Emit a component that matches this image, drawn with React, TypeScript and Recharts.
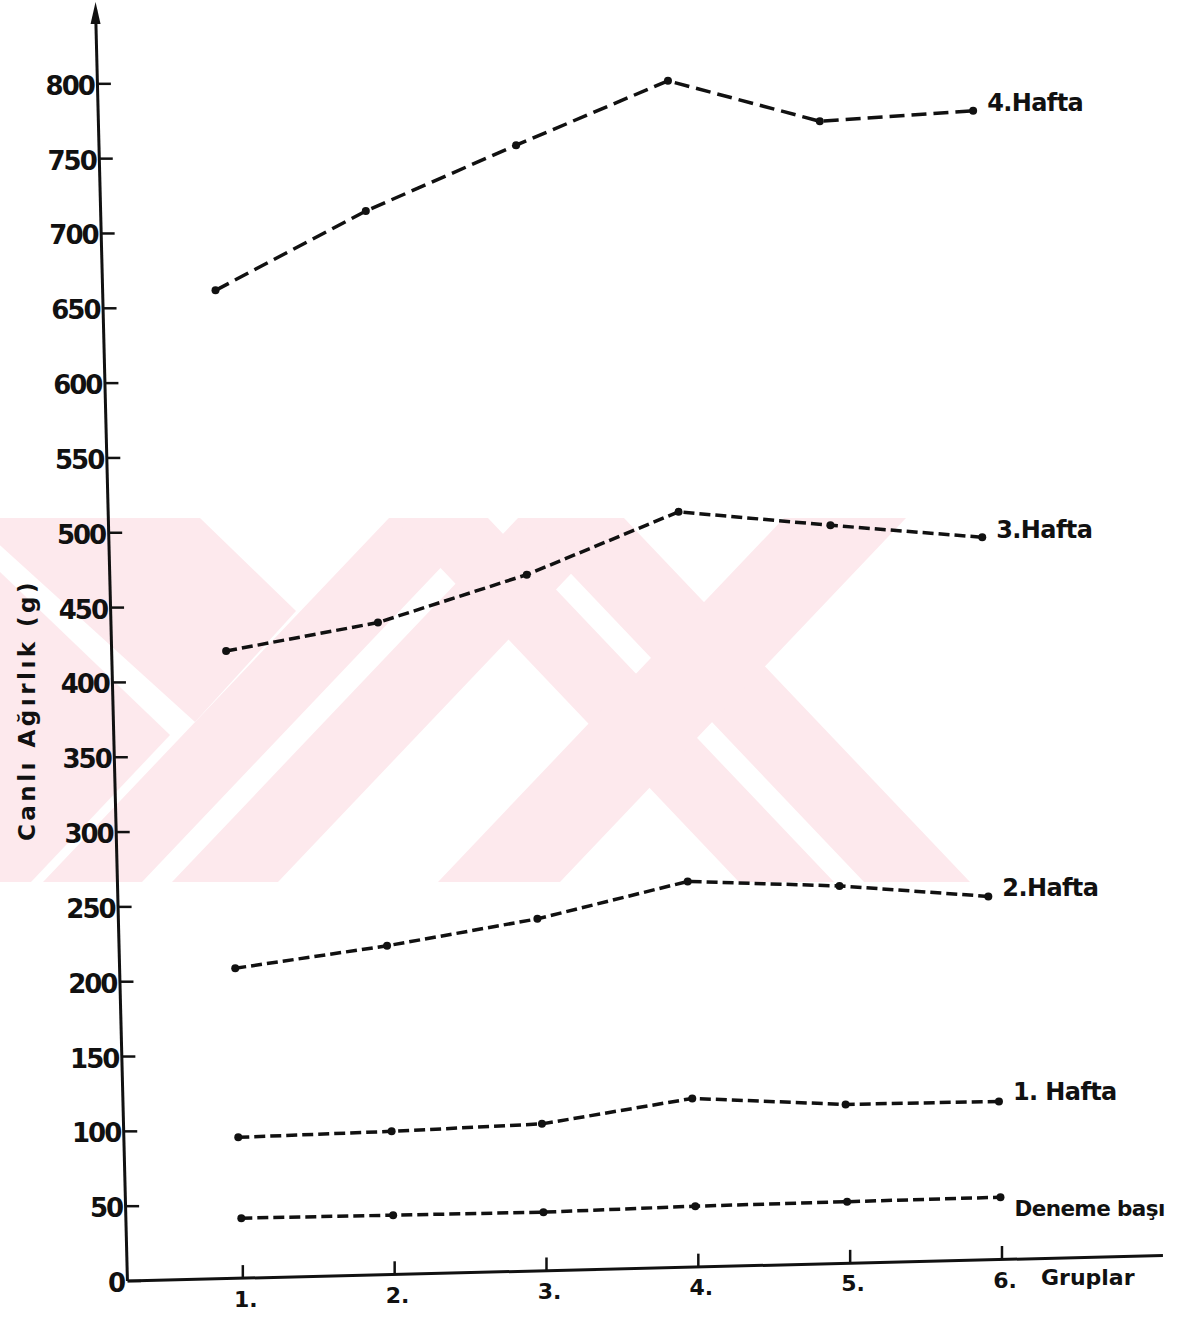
import React from 'react';
import { LineChart, Line, XAxis, YAxis, ReferenceLine, ReferenceDot, LabelList } from 'recharts';

// Groups on the x axis
const gruplar = [1, 2, 3, 4, 5, 6];
const yTicks = [0, 50, 100, 150, 200, 250, 300, 350, 400, 450, 500, 550, 600, 650, 700, 750, 800];

// Weekly live weights (g) per group (hand drawn, points drift off the ticks)
const hafta4X = [0.82, 1.81, 2.8, 3.8, 4.8, 5.81];
const hafta4Y = [662, 715, 759, 802, 775, 782];
const hafta3X = [0.89, 1.89, 2.87, 3.87, 4.87, 5.87];
const hafta3Y = [421, 440, 472, 514, 505, 497];
const hafta2X = [0.95, 1.95, 2.94, 3.93, 4.93, 5.91];
const hafta2Y = [209, 224, 242, 267, 264, 257];
const hafta1X = [0.97, 1.98, 2.97, 3.96, 4.97, 5.98];
const hafta1Y = [96, 100, 105, 122, 118, 120];
const denemeX = [0.99, 1.99, 2.98, 3.98, 4.98, 5.99];
const denemeY = [42, 44, 46, 50, 53, 56];

const seriesNames = ['4.Hafta', '3.Hafta', '2.Hafta', '1. Hafta', 'Deneme başı'];

const toPoints = (xs: number[], ys: number[]) => xs.map((x, i) => ({ x, y: ys[i] }));

const series = [
  { name: seriesNames[0], data: toPoints(hafta4X, hafta4Y), dash: '15 7', dy: -8, fs: 24 },
  { name: seriesNames[1], data: toPoints(hafta3X, hafta3Y), dash: '11 5', dy: -7, fs: 24 },
  { name: seriesNames[2], data: toPoints(hafta2X, hafta2Y), dash: '11 5', dy: -8, fs: 24 },
  { name: seriesNames[3], data: toPoints(hafta1X, hafta1Y), dash: '11 5', dy: -9, fs: 24 },
  { name: seriesNames[4], data: toPoints(denemeX, denemeY), dash: '11 5', dy: 11, fs: 21.5 },
];

const W = 1178;
const H = 1318;
const FONT = '"DejaVu Sans", sans-serif';
const INK = '#111';
const PINK = '#fde9ed';

// the drawn axes lean a little: y axis runs from x=96 (top) to x=128 (origin),
// x axis falls from y=1281 (origin) to y=1255 (right end)
const yAxisPx = (py: number) => 96 + ((py - 9) * 32) / 1272;
const xAxisPx = (px: number) => 1281 - ((px - 128) * 26) / 1034;

function YTick(props: any) {
  const { y, payload } = props;
  const ax = yAxisPx(y);
  return (
    <g>
      <line x1={ax} y1={y} x2={ax + 13} y2={y} stroke={INK} strokeWidth={2.5} />
      <text
        x={ax - 4}
        y={y + 2}
        textAnchor="end"
        dominantBaseline="central"
        fontFamily={FONT}
        fontWeight="bold"
        fontSize={26}
        letterSpacing={-2}
        fill={INK}
      >
        {payload.value}
      </text>
    </g>
  );
}

function XTick(props: any) {
  const { x, payload } = props;
  const ay = xAxisPx(x);
  return (
    <g>
      <line x1={x} y1={ay} x2={x} y2={ay - 13} stroke={INK} strokeWidth={2.5} />
      <text
        x={x + 3}
        y={ay + 21}
        textAnchor="middle"
        dominantBaseline="central"
        fontFamily={FONT}
        fontWeight="bold"
        fontSize={22}
        fill={INK}
      >
        {`${payload.value}.`}
      </text>
    </g>
  );
}

// faint archive stamp behind the plot
function Watermark() {
  const shapes = [
    '389,518 488,518 142,882 43,882',
    '518,518 624,518 278,882 172,882',
    '393,518 488,518 834,882 739,882',
    '518,518 624,518 970,882 864,882',
    '784,518 906,518 560,882 438,882',
    '-30,518 200,518 296,611 195,722',
    '0,572 170,735 31,882 0,882',
  ];
  return (
    <svg width={W} height={H} style={{ position: 'absolute', left: 0, top: 0 }}>
      <defs>
        <clipPath id="wmClip">
          <rect x={0} y={518} width={1000} height={364} />
        </clipPath>
      </defs>
      <g clipPath="url(#wmClip)" fill={PINK}>
        {shapes.map((p, i) => (
          <polygon key={i} points={p} />
        ))}
      </g>
    </svg>
  );
}

export default function App() {
  return (
    <div style={{ position: 'absolute', left: 0, top: 0, width: W, height: H, background: '#fff', overflow: 'hidden' }}>
      <Watermark />
      <div style={{ position: 'absolute', left: 0, top: 0 }}>
        <LineChart width={W} height={H} margin={{ top: 9, right: 9, bottom: 7, left: 31 }}>
          <XAxis
            dataKey="x"
            type="number"
            domain={[0, 7.1]}
            ticks={gruplar}
            axisLine={false}
            tickLine={false}
            tick={<XTick />}
            height={30}
            allowDataOverflow
            label={{
              content: () => (
                <text x={1041} y={1285} fontFamily={FONT} fontWeight="bold" fontSize={22} fill={INK}>
                  Gruplar
                </text>
              ),
            }}
          />
          <YAxis
            type="number"
            domain={[0, 850]}
            ticks={yTicks}
            axisLine={false}
            tickLine={false}
            tick={<YTick />}
            width={60}
            allowDataOverflow
            label={{
              content: () => (
                <text
                  x={27}
                  y={710}
                  transform="rotate(-90 27 710)"
                  textAnchor="middle"
                  dominantBaseline="central"
                  fontFamily={FONT}
                  fontWeight="bold"
                  fontSize={23}
                  letterSpacing={3.5}
                  fill={INK}
                >
                  Canlı Ağırlık (g)
                </text>
              ),
            }}
          />
          {/* hand drawn axes */}
          <ReferenceLine
            segment={[{ x: 0.03, y: 850 }, { x: 0.24, y: 0 }]}
            stroke={INK}
            strokeWidth={3}
            ifOverflow="visible"
          />
          <ReferenceLine
            segment={[{ x: 0.24, y: 0 }, { x: 7.06, y: 17 }]}
            stroke={INK}
            strokeWidth={3}
            ifOverflow="visible"
          />
          <ReferenceDot
            x={0.03}
            y={850}
            r={0}
            ifOverflow="visible"
            shape={(p: any) => (
              <path d={`M${p.cx},${p.cy - 7} l-5,22 l10,0 z`} fill={INK} />
            )}
          />
          {series.map((s) => (
            <Line
              key={s.name}
              data={s.data}
              dataKey="y"
              type="linear"
              stroke={INK}
              strokeWidth={3.5}
              strokeDasharray={s.dash}
              dot={{ r: 4, fill: INK, stroke: 'none', strokeDasharray: '0' }}
              isAnimationActive={false}
            >
              <LabelList
                dataKey="y"
                content={(p: any) =>
                  p.index === s.data.length - 1 ? (
                    <text
                      x={p.x + 14}
                      y={p.y + s.dy}
                      dominantBaseline="central"
                      fontFamily={FONT}
                      fontWeight="bold"
                      fontSize={s.fs}
                      letterSpacing={-0.6}
                      fill={INK}
                    >
                      {s.name}
                    </text>
                  ) : null
                }
              />
            </Line>
          ))}
        </LineChart>
      </div>
    </div>
  );
}
